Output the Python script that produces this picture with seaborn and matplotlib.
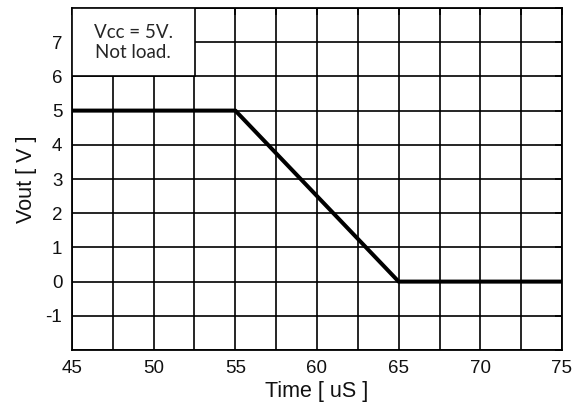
import matplotlib
matplotlib.use("Agg")
import matplotlib.pyplot as plt
import seaborn as sns
import pandas as pd
import numpy as np
from matplotlib.patches import Rectangle

time_us = [45, 55, 65, 75]
vout_v = [5, 5, 0, 0]
x_ticks = [45, 50, 55, 60, 65, 70, 75]
y_ticks = [-1, 0, 1, 2, 3, 4, 5, 6, 7]
note_text = "Vcc = 5V.\nNot load."

sns.set_theme(style="white")
plt.rcParams['font.family'] = ['Liberation Sans', 'DejaVu Sans']

fig = plt.figure(figsize=(5.82, 4.07), dpi=100)
ax = fig.add_axes([72/582, 1-350/407, 490/582, 342/407])

df = pd.DataFrame({"Time": time_us, "Vout": vout_v})
sns.lineplot(data=df, x="Time", y="Vout", ax=ax, color="black", linewidth=2.9, zorder=5)

ax.set_xlim(45, 75)
ax.set_ylim(-2, 8)
ax.set_xticks(np.arange(45, 75.1, 2.5))
ax.set_xticklabels([str(int(v)) if v in x_ticks else "" for v in np.arange(45, 75.1, 2.5)])
ax.set_yticks(np.arange(-2, 8.1, 1))
ax.set_yticklabels([str(int(v)) if v in y_ticks else "" for v in np.arange(-2, 8.1, 1)])
ax.grid(True, color="black", linewidth=1.2, zorder=1)
ax.set_axisbelow(True)
ax.tick_params(axis='both', direction='in', length=5, width=1.2, color='black',
               labelsize=13.5, labelcolor='#111111', pad=7, top=True, right=True)
for s in ax.spines.values():
    s.set_color("black")
    s.set_linewidth(1.3)

ax.set_xlabel("Time [ uS ]", fontsize=15.5, labelpad=3, color='#111111')
ax.set_ylabel("Vout [ V ]", fontsize=15.5, labelpad=6, color='#111111')

rect = Rectangle((45, 6), 7.5, 2, facecolor="white", edgecolor="black", linewidth=1.2, zorder=3)
ax.add_patch(rect)
ax.text(48.75, 7.0, note_text, ha="center", va="center", fontsize=13.5,
        family=['Lato', 'DejaVu Sans'], zorder=6, linespacing=1.2)

fig.savefig("out.png", dpi=100)
